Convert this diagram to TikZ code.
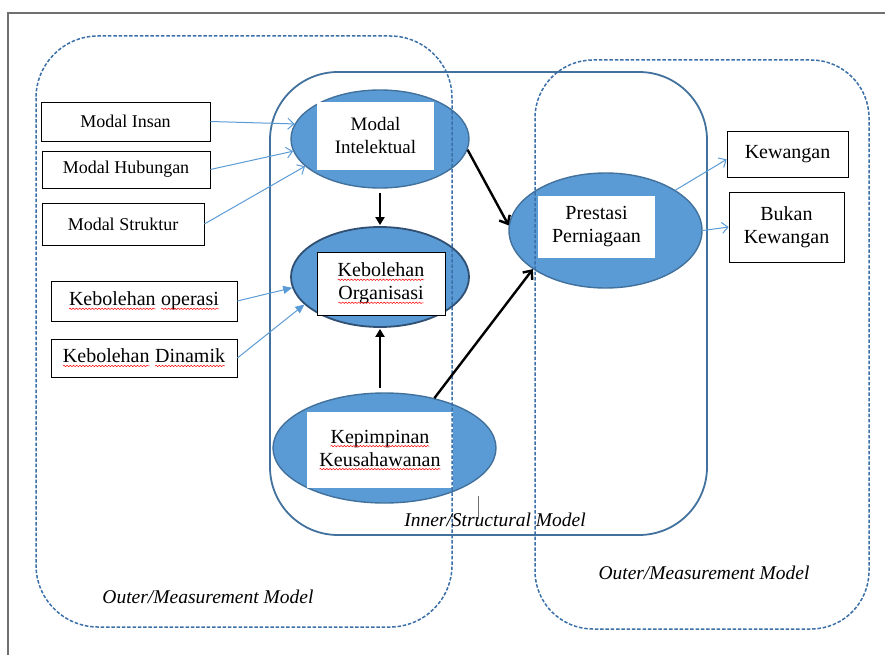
\documentclass[tikz,border=0pt]{standalone}
\usepackage{fontspec}
\setmainfont{Liberation Serif}
\usetikzlibrary{shapes.geometric,arrows.meta,decorations.pathmorphing}

\definecolor{isiBiru}{HTML}{5B9BD5}
\definecolor{tepiBiru}{HTML}{41719C}
\definecolor{tepiGelap}{HTML}{2F4F73}
\definecolor{putusBiru}{HTML}{3B6FA8}
\definecolor{bingkaiKelabu}{HTML}{707070}

\newcommand{\salaheja}[1]{\tikz[baseline=(w.base)]{\node[rectangle,draw=none,fill=none,inner sep=0pt,outer sep=0pt,minimum width=0pt,minimum height=0pt] (w) {#1};
\draw[red,line width=.5pt,decorate,decoration={snake,amplitude=.7pt,segment length=3.2pt}] ([yshift=-3pt]w.base west) -- ([yshift=-3pt]w.base east);}}

\begin{document}
\begin{tikzpicture}[x=1pt,y=-1pt,
  kotak/.style={draw=black,line width=.7pt,fill=white,inner sep=0pt,align=center,font=\fontsize{18}{21}\selectfont},
  kotakb/.style={kotak,font=\fontsize{20}{23}\selectfont},
  laten/.style={ellipse,draw=tepiBiru,line width=1.4pt,fill=isiBiru,inner sep=0pt},
  isi/.style={fill=white,inner sep=0pt,align=center,font=\fontsize{20}{23}\selectfont},
  garisputus/.style={draw=putusBiru,line width=1.5pt,dash pattern=on 3.5pt off 1.8pt},
  bingkai/.style={draw=tepiBiru,line width=1.8pt},
  ukur/.style={draw=isiBiru,line width=1pt,-{Straight Barb[length=6pt,width=11pt]}},
  ukurp/.style={draw=isiBiru,line width=1pt,-{Triangle[length=9pt,width=8pt]}},
  laluanv/.style={draw=black,line width=2.4pt,-{Triangle[length=8pt,width=9pt]},shorten <=4pt,shorten >=1pt},
  laluand/.style={draw=black,line width=2.4pt,-{Straight Barb[length=7pt,width=12pt]}},
  catatan/.style={font=\fontsize{19.5}{22}\selectfont\itshape}]

\useasboundingbox (0,0) rectangle (885,655);
\draw[bingkaiKelabu,line width=1.4pt] (8,655) -- (8,13) -- (885,13);

\draw[bingkai,rounded corners=68pt] (270,72) rectangle (707,535);

\node[laten,minimum width=178pt,minimum height=98pt] (mi) at (380,139) {};
\node[laten,draw=tepiGelap,line width=1.8pt,minimum width=178pt,minimum height=100pt] (ko) at (380,277) {};
\node[laten,minimum width=223pt,minimum height=110pt] (kp) at (384.5,448) {};
\node[laten,minimum width=193pt,minimum height=115pt] (pp) at (605.5,230.5) {};

\node[isi,minimum width=117pt,minimum height=68pt,font=\fontsize{19}{23}\selectfont] (mit) at (375.5,136) {Modal\\Intelektual};
\node[kotakb,line width=1pt,minimum width=128pt,minimum height=63pt] (kot) at (381,283.5) {\salaheja{Kebolehan}\\\salaheja{Organisasi}};
\node[isi,minimum width=146pt,minimum height=76pt] (kpt) at (380,450) {\salaheja{Kepimpinan}\\\salaheja{Keusahawanan}};
\node[isi,minimum width=117pt,minimum height=62pt] (ppt) at (596.5,227) {Prestasi\\Perniagaan};

\draw[garisputus,rounded corners=62pt] (36,36) rectangle (452,627);
\draw[garisputus,rounded corners=58pt] (535,60) rectangle (869,629);

\node[kotak,minimum width=169pt,minimum height=39pt] (ins) at (125.5,121.5) {Modal Insan};
\node[kotak,minimum width=168pt,minimum height=37pt] (hub) at (126,169.5) {Modal Hubungan};
\node[kotak,minimum width=162pt,minimum height=42pt] (str) at (123,224) {Modal Struktur};
\node[kotakb,minimum width=186pt,minimum height=40pt] (ops) at (144,301) {\salaheja{Kebolehan} \salaheja{operasi}};
\node[kotakb,minimum width=186pt,minimum height=38pt] (din) at (144,358) {\salaheja{Kebolehan} \salaheja{Dinamik}};
\node[kotakb,minimum width=121pt,minimum height=46pt] (kew) at (787.5,154) {Kewangan};
\node[kotakb,minimum width=115pt,minimum height=70pt] (bk) at (786.5,227) {Bukan\\Kewangan};

\draw[ukur] (ins.east) -- (mi.170);
\draw[ukur] (hub.east) -- (mi.188);
\draw[ukur] (str.east) -- (mi.200);
\draw[ukurp] (ops.east) -- (ko.187);
\draw[ukurp] (din.east) -- (ko.200);
\draw[ukur] (pp.30) -- (kew.185);
\draw[ukur] (pp.east) -- (bk.west);

\draw[laluanv] (mi.south) -- (ko.north);
\draw[laluanv] (kp.north -| ko.south) -- (ko.south);
\draw[laluand] (mi.-7) -- (pp.177);
\draw[laluand] (kp.45) -- (pp.208);

\node[catatan] (inr) at (495,520) {Inner/Structural Model};
\node[catatan] (outl) at (208,597) {Outer/Measurement Model};
\node[catatan] (outr) at (704,573) {Outer/Measurement Model};

\draw[bingkaiKelabu,line width=.6pt] (478,496) -- (478,519);

\end{tikzpicture}
\end{document}
